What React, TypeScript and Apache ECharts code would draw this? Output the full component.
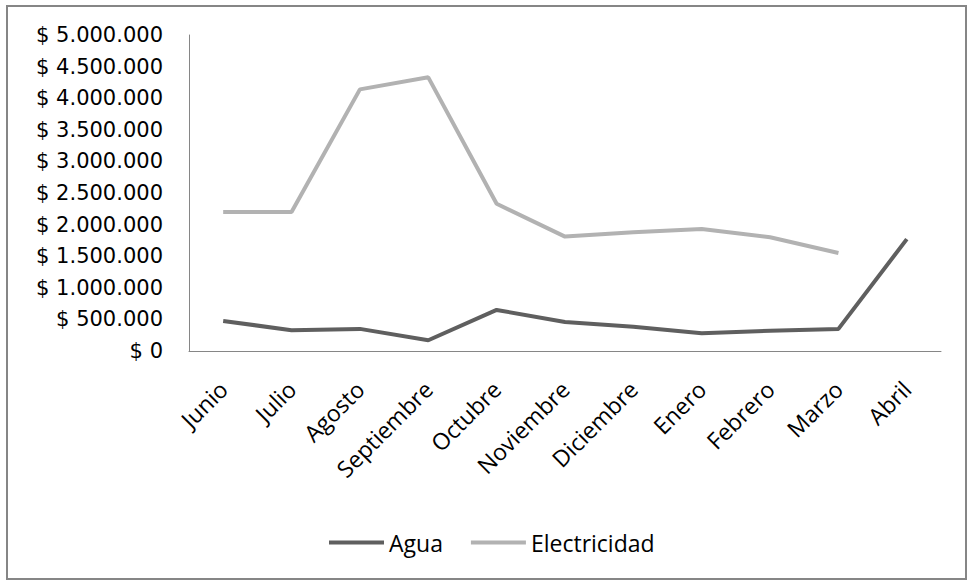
import React, { useEffect, useRef } from "react";
import * as echarts from "echarts";

const months = [
  "Junio",
  "Julio",
  "Agosto",
  "Septiembre",
  "Octubre",
  "Noviembre",
  "Diciembre",
  "Enero",
  "Febrero",
  "Marzo",
  "Abril",
];

const agua = [475000, 330000, 350000, 170000, 650000, 460000, 385000, 280000, 320000, 350000, 1770000];

const electricidad = [2200000, 2200000, 4140000, 4330000, 2330000, 1810000, 1880000, 1930000, 1800000, 1550000, null];

const yMax = 5000000;
const yStep = 500000;

const formatPeso = (v: number) =>
  "$ " + String(Math.round(v)).replace(/\B(?=(\d{3})+(?!\d))/g, ".");

export default function App() {
  const ref = useRef<HTMLDivElement>(null);

  useEffect(() => {
    if (!ref.current) return;
    const chart = echarts.init(ref.current, null, { renderer: "svg" });
    chart.setOption({
      animation: false,
      backgroundColor: "#ffffff",
      graphic: [
        {
          type: "rect",
          shape: { x: 7, y: 6, width: 959, height: 573 },
          style: { fill: "none", stroke: "#868686", lineWidth: 2 },
          silent: true,
        },
      ],
      grid: { left: 189, right: 28, top: 35, bottom: 230, containLabel: false },
      legend: {
        left: 324,
        top: 526,
        itemWidth: 55,
        itemHeight: 4,
        itemGap: 28,
        icon: "rect",
        textStyle: { fontFamily: "Open Sans", fontSize: 23, color: "#000000" },
        data: [
          { name: "Agua", itemStyle: { color: "#5f5f5f" } },
          { name: "Electricidad", itemStyle: { color: "#b2b2b2" } },
        ],
      },
      xAxis: {
        type: "category",
        data: months,
        boundaryGap: true,
        axisLine: { show: true, lineStyle: { color: "#868686", width: 1 } },
        axisTick: { show: false },
        axisLabel: {
          rotate: 45,
          margin: 34,
          interval: 0,
          fontFamily: "Open Sans",
          fontSize: 23,
          color: "#000000",
        },
      },
      yAxis: {
        type: "value",
        min: 0,
        max: yMax,
        interval: yStep,
        axisLine: { show: true, lineStyle: { color: "#868686", width: 1 } },
        axisTick: { show: false },
        splitLine: { show: false },
        axisLabel: {
          margin: 26,
          fontFamily: "DejaVu Sans",
          fontSize: 21,
          color: "#000000",
          formatter: (v: number) => formatPeso(v),
        },
      },
      series: [
        {
          name: "Agua",
          type: "line",
          data: agua,
          symbol: "none",
          lineStyle: { color: "#5f5f5f", width: 4 },
          itemStyle: { color: "#5f5f5f" },
        },
        {
          name: "Electricidad",
          type: "line",
          data: electricidad,
          symbol: "none",
          lineStyle: { color: "#b2b2b2", width: 4 },
          itemStyle: { color: "#b2b2b2" },
        },
      ],
    });
    return () => chart.dispose();
  }, []);

  return (
    <div
      ref={ref}
      style={{ position: "fixed", left: 0, top: 0, width: 969, height: 581 }}
    />
  );
}
